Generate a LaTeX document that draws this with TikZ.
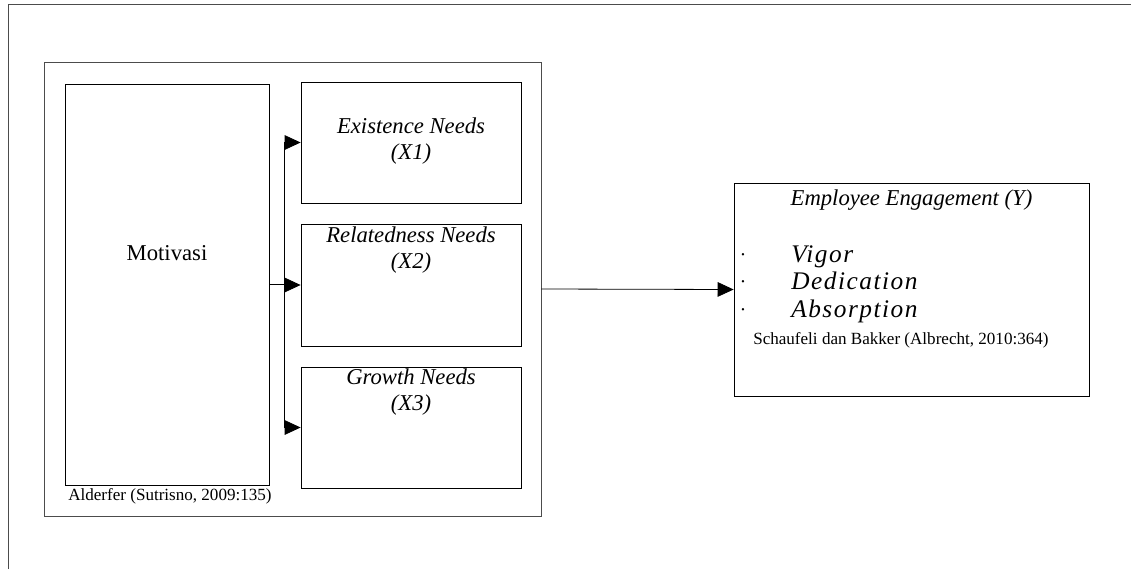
\documentclass[tikz,border=0pt]{standalone}
\usepackage{fontspec}
\setmainfont{Liberation Serif}
\newfontfamily\dimfont[LetterSpace=6]{Liberation Serif}
\usetikzlibrary{arrows.meta, positioning, fit}

\begin{document}
\begin{tikzpicture}[x=0.75pt, y=-0.75pt,
    box/.style={draw, line width=0.6pt, inner sep=0pt},
    arr/.style={-{Triangle[length=12pt, width=11pt]}, line width=0.6pt},
    needtxt/.style={font=\fontsize{17}{19.5}\selectfont\itshape, align=center},
    srctxt/.style={font=\fontsize{12.8}{15}\selectfont, inner sep=0pt}]
  \useasboundingbox (0,0) rectangle (1131,571);

  % page frame
  \draw[black!70, line width=0.6pt] (8,569) -- (8,4) -- (1131,4);

  % Alderfer block
  \node[box, draw=black!70, fit={(44,62) (541,516)}] (erg) {};
  \node[box, fit={(65,84) (269,485)}] (mot) {};
  \node[font=\fontsize{17}{19.5}\selectfont] at (167,253) {Motivasi};
  \node[srctxt, anchor=west] at (68,496) {Alderfer (Sutrisno, 2009:135)};

  \node[box, fit={(301,82) (521,203)}] (ex) {};
  \node[box, fit={(301,224) (521,346)}] (rel) {};
  \node[box, fit={(301,367) (521,488)}] (gr) {};
  \node[needtxt] at (411,141) {Existence Needs\\(X1)};
  \node[needtxt] at (411,250) {Relatedness Needs\\(X2)};
  \node[needtxt] at (411,392) {Growth Needs\\(X3)};

  % branches
  \coordinate (bus) at (284,285);
  \draw[line width=0.6pt] (mot.east) -- (bus |- mot.east);
  \draw[line width=0.6pt] (bus |- ex.west) -- (bus |- gr.west);
  \draw[arr] (bus |- ex.west) -- (ex.west);
  \draw[arr] (bus |- rel.west) -- (rel.west);
  \draw[arr] (bus |- gr.west) -- (gr.west);

  % Employee engagement
  \node[box, fit={(734,183) (1089,396)}] (emp) {};
  \node[needtxt] at (911.5,200) {Employee Engagement (Y)};
  \foreach \dim/\yy in {Vigor/262, Dedication/289, Absorption/317} {
    \node[inner sep=0pt, font=\fontsize{17}{19}\selectfont] at (743,\yy-7) {$\cdot$};
    \node[anchor=base west, inner sep=0pt, font=\fontsize{19}{22}\selectfont\dimfont\itshape] at (791,\yy) {\dim};
  }
  \node[srctxt, anchor=west] at (753,340) {Schaufeli dan Bakker (Albrecht, 2010:364)};

  \draw[arr] (erg.east) -- (emp.west);
\end{tikzpicture}
\end{document}
